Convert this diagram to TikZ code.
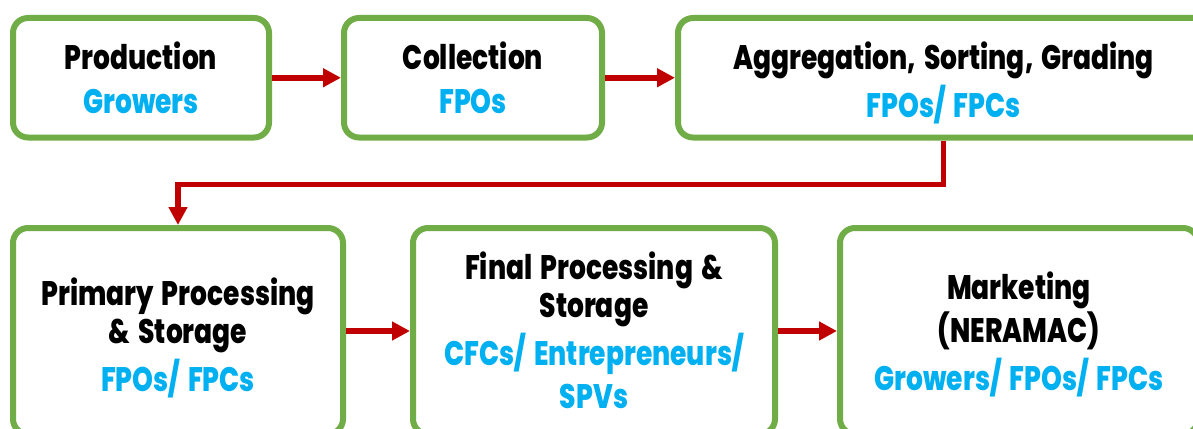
\documentclass[tikz,border=0pt]{standalone}
\usepackage{fontspec}
\setmainfont{Poppins}[BoldFont={Poppins ExtraBold}, FakeStretch=0.78, WordSpace=1.6]
\usetikzlibrary{arrows.meta}
\definecolor{boxgreen}{HTML}{70AD47}
\definecolor{flowred}{HTML}{C00000}
\definecolor{roleblue}{HTML}{00B0F0}
% fixed-height strut so each label's top edge sits a known distance above its first baseline
\newcommand{\firstline}{\rule{0pt}{40pt}}
\newcommand{\role}[1]{\textcolor{roleblue}{#1}}
\begin{document}
\begin{tikzpicture}[x=1pt,y=-1pt,
  stage/.style={draw=boxgreen, line width=6pt, rounded corners=15pt, fill=white, inner sep=0pt},
  lbl/.style={anchor=north, align=center, inner sep=0pt, font=\bfseries\fontsize{34}{38}\selectfont},
  flow/.style={draw=flowred, line width=5.5pt, -{Triangle[length=18pt,width=18pt]}}]
\useasboundingbox (0,0) rectangle (1193,428);
\clip (0,0) rectangle (1193,428);

% value-chain stages, top row
\node[stage, minimum width=256pt, minimum height=119.5pt] (b1) at (141,77.75) {};
\node[stage, minimum width=258pt, minimum height=119.5pt] (b2) at (473,77.75) {};
\node[stage, minimum width=531pt, minimum height=119.5pt] (b3) at (943.5,77.75) {};
% bottom row
\node[stage, minimum width=330pt, minimum height=206pt] (b4) at (178,331) {};
\node[stage, minimum width=362pt, minimum height=206pt] (b5) at (594,331) {};
\node[stage, minimum width=358pt, minimum height=206pt] (b6) at (1019,331) {};

% stage names and the actors responsible
\node[lbl] (t1) at (141,29) {\firstline Production\\[6pt]\role{Growers}};
\node[lbl] (t2) at (473,29) {\firstline Collection\\[6pt]\role{FPOs}};
\node[lbl] (t3) at (943.5,29) {\firstline Aggregation, Sorting, Grading\\[6pt]\role{FPOs/ FPCs}};
\node[lbl] (t4) at (178,265) {\firstline Primary Processing\\\& Storage\\[6pt]\role{FPOs/ FPCs}};
\node[lbl] (t5) at (594,239) {\firstline Final Processing \&\\Storage\\[6pt]\role{CFCs/ Entrepreneurs/}\\[5pt]\role{SPVs}};
\node[lbl] (t6) at (1019,259) {\firstline Marketing\\[2pt](NERAMAC)\\[7pt]\role{Growers/ FPOs/ FPCs}};

% flow between stages
\draw[flow] (b1) -- (b2);
\draw[flow] (b2) -- (b3);
\draw[flow] (b3.south) -- ++(0,44) -| (b4.north);
\draw[flow] (b4) -- (b5);
\draw[flow] (b5) -- (b6);
\end{tikzpicture}
\end{document}
